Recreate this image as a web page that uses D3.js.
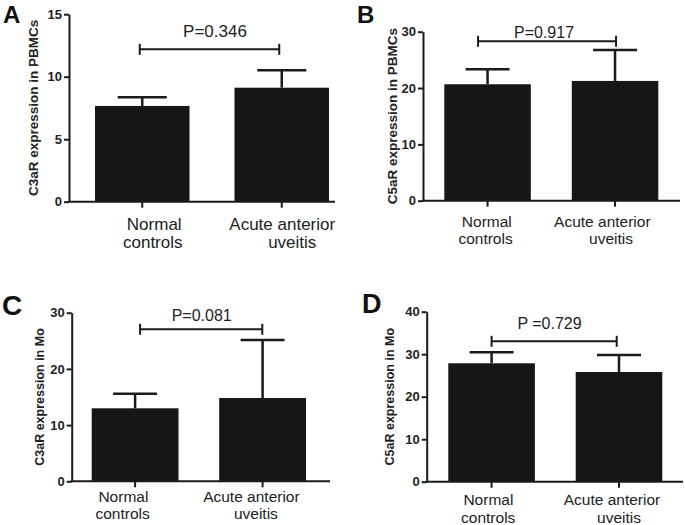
<!DOCTYPE html>
<html>
<head>
<meta charset="utf-8">
<script src="https://cdn.jsdelivr.net/npm/d3@7"></script>
<style>
  html, body { margin: 0; padding: 0; background: #fff; }
  svg { display: block; font-family: "Liberation Sans", Arial, sans-serif; }
</style>
</head>
<body>
<svg id="chart" width="685" height="525"></svg>
<script>
// ---------------- DATA ----------------
const categories = ["Normal controls", "Acute anterior uveitis"];
const categoryLines = [["Normal", "controls"], ["Acute anterior", "uveitis"]];

const panelLetters = ["A", "B", "C", "D"];
const yTitles = [
  "C3aR expression in PBMCs",
  "C5aR expression in PBMCs",
  "C3aR expression in Mo",
  "C5aR expression in Mo"
];

const yTicksA = [0, 5, 10, 15];
const yTicksB = [0, 10, 20, 30];
const yTicksC = [0, 10, 20, 30];
const yTicksD = [0, 10, 20, 30, 40];

const meanA = [7.66, 9.12];
const semA  = [0.69, 1.39];
const meanB = [20.67, 21.26];
const semB  = [2.67, 5.51];
const meanC = [12.99, 14.82];
const semC  = [2.60, 10.32];
const meanD = [27.86, 25.81];
const semD  = [2.59, 4.00];

const pLabels = ["P=0.346", "P=0.917", "P=0.081", "P =0.729"];
const bracketLevels = [12.19, 28.3, 27.05, 33.03];

// ---------------- LAYOUT ----------------
const layout = [
  { ticks: yTicksA, mean: meanA, sem: semA, yMax: 15,
    axisX: 69, axisEnd: 335, y0: 201.7, yTop: 14.2, barL: 95, barR: 329, bw: 94.5,
    cap: 24.5, brDx: [-2.5, -2.5], pX: 215, pY: 37, pSize: 17,
    catSize: 17, catDx: [[12, 10.5], [0.5, 10.5]], catY: [230, 248.3],
    titleX: 33, letterX: 3, letterY: 23, letterSize: 24 },
  { ticks: yTicksB, mean: meanB, sem: semB, yMax: 30,
    axisX: 423, axisEnd: 680, y0: 200.7, yTop: 31.7, barL: 444.3, barR: 658.3, bw: 86.5,
    cap: 22, brDx: [-9.5, 1], pX: 544, pY: 38.3, pSize: 16,
    catSize: 15.5, catDx: [[-0.7, -2], [-12.7, -4]], catY: [226.7, 244.3],
    titleX: 392, letterX: 357, letterY: 22.5, letterSize: 24 },
  { ticks: yTicksC, mean: meanC, sem: semC, yMax: 30,
    axisX: 71.7, axisEnd: 330, y0: 481.3, yTop: 312.7, barL: 91.7, barR: 306, bw: 86.8,
    cap: 22, brDx: [5, -0.3], pX: 201.7, pY: 320.7, pSize: 16,
    catSize: 15.5, catDx: [[-11.7, -12.5], [-11.2, -6.7]], catY: [501.7, 519.3],
    titleX: 40, letterX: 2, letterY: 315, letterSize: 28 },
  { ticks: yTicksD, mean: meanD, sem: semD, yMax: 40,
    axisX: 426.7, axisEnd: 683, y0: 481.7, yTop: 311.7, barL: 448.3, barR: 662.3, bw: 86.6,
    cap: 22, brDx: [0, -2.3], pX: 549.5, pY: 329, pSize: 16,
    catSize: 15.5, catDx: [[-3.2, -3.4], [-7, 0]], catY: [505, 522.7],
    titleX: 390, letterX: 362, letterY: 313, letterSize: 27 }
];

const ink = "#1b1b1b";
const svg = d3.select("#chart");

layout.forEach((p, i) => {
  const g = svg.append("g");
  const W = p.barR - p.barL;
  const pad = (W - 2 * p.bw) / (W - p.bw);
  const x = d3.scaleBand().domain(categories).range([p.barL, p.barR])
    .paddingInner(pad).paddingOuter(0);
  const y = d3.scaleLinear().domain([0, p.yMax]).range([p.y0, p.yTop]);
  const cx = c => x(c) + x.bandwidth() / 2;

  // bars
  g.selectAll("rect.bar").data(categories).join("rect")
    .attr("x", c => x(c))
    .attr("width", x.bandwidth())
    .attr("y", (c, k) => y(p.mean[k]))
    .attr("height", (c, k) => p.y0 - y(p.mean[k]))
    .attr("fill", "#161616");

  // error bars (upper only)
  categories.forEach((c, k) => {
    const top = y(p.mean[k] + p.sem[k]);
    g.append("line").attr("x1", cx(c)).attr("x2", cx(c))
      .attr("y1", y(p.mean[k])).attr("y2", top)
      .attr("stroke", ink).attr("stroke-width", 2.5);
    g.append("line").attr("x1", cx(c) - p.cap).attr("x2", cx(c) + p.cap)
      .attr("y1", top).attr("y2", top)
      .attr("stroke", ink).attr("stroke-width", 2.5);
  });

  // y axis
  const yAxis = d3.axisLeft(y).tickValues(p.ticks).tickSize(5).tickSizeOuter(0).tickPadding(2);
  const ya = g.append("g").attr("transform", `translate(${p.axisX},0)`).call(yAxis);
  ya.select(".domain").attr("stroke", ink).attr("stroke-width", 2);
  ya.selectAll(".tick line").attr("stroke", ink).attr("stroke-width", 2);
  ya.selectAll(".tick text").attr("fill", "#222").attr("font-size", 13)
    .attr("font-weight", "bold").attr("font-family", "Liberation Sans, Arial, sans-serif");

  // x axis
  g.append("line").attr("x1", p.axisX - 1).attr("x2", p.axisEnd)
    .attr("y1", p.y0).attr("y2", p.y0).attr("stroke", ink).attr("stroke-width", 2);
  const xAxis = d3.axisBottom(x).tickSize(6).tickSizeOuter(0).tickFormat("");
  const xa = g.append("g").attr("transform", `translate(0,${p.y0})`).call(xAxis);
  xa.select(".domain").remove();
  xa.selectAll(".tick line").attr("stroke", ink).attr("stroke-width", 2);

  // category labels
  categories.forEach((c, k) => {
    categoryLines[k].forEach((line, j) => {
      g.append("text").attr("x", cx(c) + p.catDx[k][j]).attr("y", p.catY[j])
        .attr("text-anchor", "middle").attr("font-size", p.catSize)
        .attr("fill", "#222").text(line);
    });
  });

  // y title
  g.append("text")
    .attr("transform", `translate(${p.titleX},${(p.y0 + p.yTop) / 2}) rotate(-90)`)
    .attr("text-anchor", "middle").attr("dominant-baseline", "central")
    .attr("font-size", i < 2 ? 13.5 : 12.5).attr("font-weight", "bold")
    .attr("fill", "#222").text(yTitles[i]);

  // significance bracket
  const by = y(bracketLevels[i]);
  const bx1 = cx(categories[0]) + p.brDx[0];
  const bx2 = cx(categories[1]) + p.brDx[1];
  g.append("line").attr("x1", bx1).attr("x2", bx2).attr("y1", by).attr("y2", by)
    .attr("stroke", ink).attr("stroke-width", 2);
  [bx1, bx2].forEach(bx => {
    g.append("line").attr("x1", bx).attr("x2", bx).attr("y1", by - 5.5).attr("y2", by + 5.5)
      .attr("stroke", ink).attr("stroke-width", 2);
  });
  g.append("text").attr("x", p.pX).attr("y", p.pY).attr("text-anchor", "middle")
    .attr("font-size", p.pSize).attr("fill", "#222").text(pLabels[i]);

  // panel letter
  g.append("text").attr("x", p.letterX).attr("y", p.letterY)
    .attr("font-size", p.letterSize).attr("font-weight", "bold")
    .attr("fill", "#111").text(panelLetters[i]);
});
</script>
</body>
</html>
